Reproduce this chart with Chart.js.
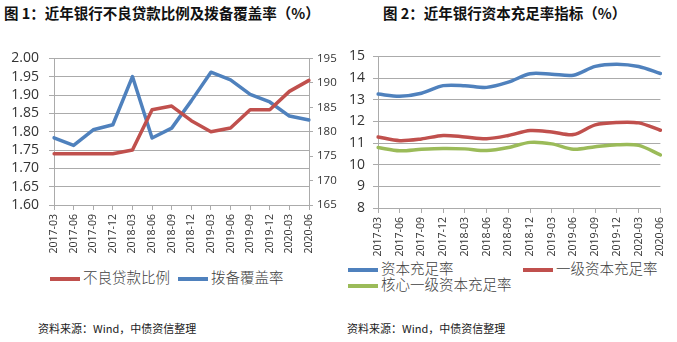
<!DOCTYPE html>
<html>
<head>
<meta charset="utf-8">
<script src="https://cdn.jsdelivr.net/npm/chart.js@4"></script>
<style>
  body { margin: 0; width: 677px; height: 342px; background: #fff; position: relative; overflow: hidden;
         font-family: "Noto Sans CJK SC", sans-serif; }
  .title { position: absolute; top: 2px; font-weight: bold; font-size: 14.5px; color: #111; white-space: nowrap; }
  .box { position: absolute; top: 40px; }
  .legend { position: absolute; font-size: 14.5px; color: #404040; white-space: nowrap; font-weight: 300; }
  .legend span.sw { display: inline-block; width: 30px; height: 4px; vertical-align: middle; margin-right: 3px; }
  .src { position: absolute; top: 320px; font-size: 11px; color: #222; white-space: nowrap; }
</style>
</head>
<body>
<div class="title" style="left:4px">图 1：近年银行不良贷款比例及拨备覆盖率（%）</div>
<div class="title" style="left:383px">图 2：近年银行资本充足率指标（%）</div>

<div class="box" style="left:0"><canvas id="c1" width="340" height="215"></canvas></div>
<div class="box" style="left:340px"><canvas id="c2" width="337" height="217"></canvas></div>

<div class="legend" id="lg1a" style="left:50px; top:266px"></div>
<div class="legend" id="lg1b" style="left:178px; top:266px"></div>
<div class="legend" id="lg2a" style="left:348px; top:257px"></div>
<div class="legend" id="lg2b" style="left:523px; top:257px"></div>
<div class="legend" id="lg2c" style="left:348px; top:273px"></div>

<div class="src" style="left:38px">资料来源：Wind，中债资信整理</div>
<div class="src" style="left:347px">资料来源：Wind，中债资信整理</div>

<script>
// quarters shared by both charts
const quarters = ['2017-03', '2017-06', '2017-09', '2017-12', '2018-03', '2018-06', '2018-09',
                  '2018-12', '2019-03', '2019-06', '2019-09', '2019-12', '2020-03', '2020-06'];

// chart 1
const nplRatio = [1.74, 1.74, 1.74, 1.74, 1.75, 1.86, 1.87, 1.83, 1.80, 1.81, 1.86, 1.86, 1.91, 1.94];
const provisionCoverage = [178.76, 177.18, 180.39, 181.42, 191.28, 178.70, 180.73, 186.31, 192.17,
                           190.61, 187.63, 186.08, 183.20, 182.40];

// chart 2
const capitalRatio = [13.26, 13.16, 13.30, 13.65, 13.65, 13.57, 13.81, 14.20, 14.18, 14.13, 14.54, 14.64, 14.53, 14.21];
const tier1Ratio = [11.28, 11.11, 11.19, 11.35, 11.28, 11.20, 11.35, 11.58, 11.51, 11.39, 11.84, 11.95, 11.93, 11.59];
const coreTier1Ratio = [10.79, 10.64, 10.71, 10.75, 10.73, 10.65, 10.79, 11.03, 10.96, 10.71, 10.83, 10.92, 10.89, 10.45];

const RED = '#C0504D', BLUE = '#4F81BD', GREEN = '#9BBB59';
const GRID = '#ababab', TXT = '#333';
const numFont = { family: 'Open Sans', size: 14 };

function legendItem(id, color, text) {
  document.getElementById(id).innerHTML =
    '<span class="sw" style="background:' + color + '"></span>' + text;
}

function lineSet(label, data, color, axis, tension, width) {
  return { label, data, yAxisID: axis, borderColor: color, backgroundColor: color,
           borderWidth: width, pointRadius: 0, tension: tension,
           borderCapStyle: 'round', borderJoinStyle: 'round' };
}

function xAxis(h) {
  return {
    offset: false,
    grid: { drawOnChartArea: false, drawTicks: true, tickLength: 5, color: GRID },
    border: { color: GRID },
    ticks: { autoSkip: false, minRotation: 90, maxRotation: 90, padding: 4,
             color: TXT, font: { family: 'Open Sans', size: 10.5 } },
    afterFit: s => { s.height = h; }
  };
}

Chart.defaults.animation = false;

const ds1 = [lineSet('不良贷款比例', nplRatio, RED, 'y', 0, 3.5),
             lineSet('拨备覆盖率', provisionCoverage, BLUE, 'y1', 0, 3.5)];

new Chart(document.getElementById('c1'), {
  type: 'line',
  data: { labels: quarters, datasets: ds1 },
  options: {
    responsive: false,
    layout: { padding: { top: 10, right: 0, left: 0, bottom: 0 } },
    plugins: { legend: { display: false }, tooltip: { enabled: false } },
    scales: {
      x: xAxis(50),
      y: {
        position: 'left', min: 1.6, max: 2.0,
        grid: { color: GRID, tickLength: 5 },
        border: { color: GRID },
        ticks: { stepSize: 0.05, autoSkip: false, padding: 10, color: TXT, font: numFont,
                 callback: v => v.toFixed(2) },
        afterFit: s => { s.width = 54; }
      },
      y1: {
        position: 'right', min: 165, max: 195,
        grid: { drawOnChartArea: false, color: GRID, tickLength: 4 },
        border: { color: GRID },
        ticks: { stepSize: 5, autoSkip: false, padding: 4, color: TXT, font: { family: 'Open Sans', size: 11.5 } },
        afterFit: s => { s.width = 31; }
      }
    }
  }
});

const ds2 = [lineSet('资本充足率', capitalRatio, BLUE, 'y', 0.3, 3.5),
             lineSet('一级资本充足率', tier1Ratio, RED, 'y', 0.3, 3.5),
             lineSet('核心一级资本充足率', coreTier1Ratio, GREEN, 'y', 0.3, 3.5)];

new Chart(document.getElementById('c2'), {
  type: 'line',
  data: { labels: quarters, datasets: ds2 },
  options: {
    responsive: false,
    layout: { padding: { top: 7, right: 15, left: 0, bottom: 0 } },
    plugins: { legend: { display: false }, tooltip: { enabled: false } },
    scales: {
      x: xAxis(49),
      y: {
        min: 8, max: 15,
        grid: { color: GRID, tickLength: 5 },
        border: { color: GRID },
        ticks: { stepSize: 1, autoSkip: false, padding: 8, color: TXT, font: numFont },
        afterFit: s => { s.width = 38; }
      }
    }
  }
});

legendItem('lg1a', RED, ds1[0].label);
legendItem('lg1b', BLUE, ds1[1].label);
legendItem('lg2a', BLUE, ds2[0].label);
legendItem('lg2b', RED, ds2[1].label);
legendItem('lg2c', GREEN, ds2[2].label);
</script>
</body>
</html>
